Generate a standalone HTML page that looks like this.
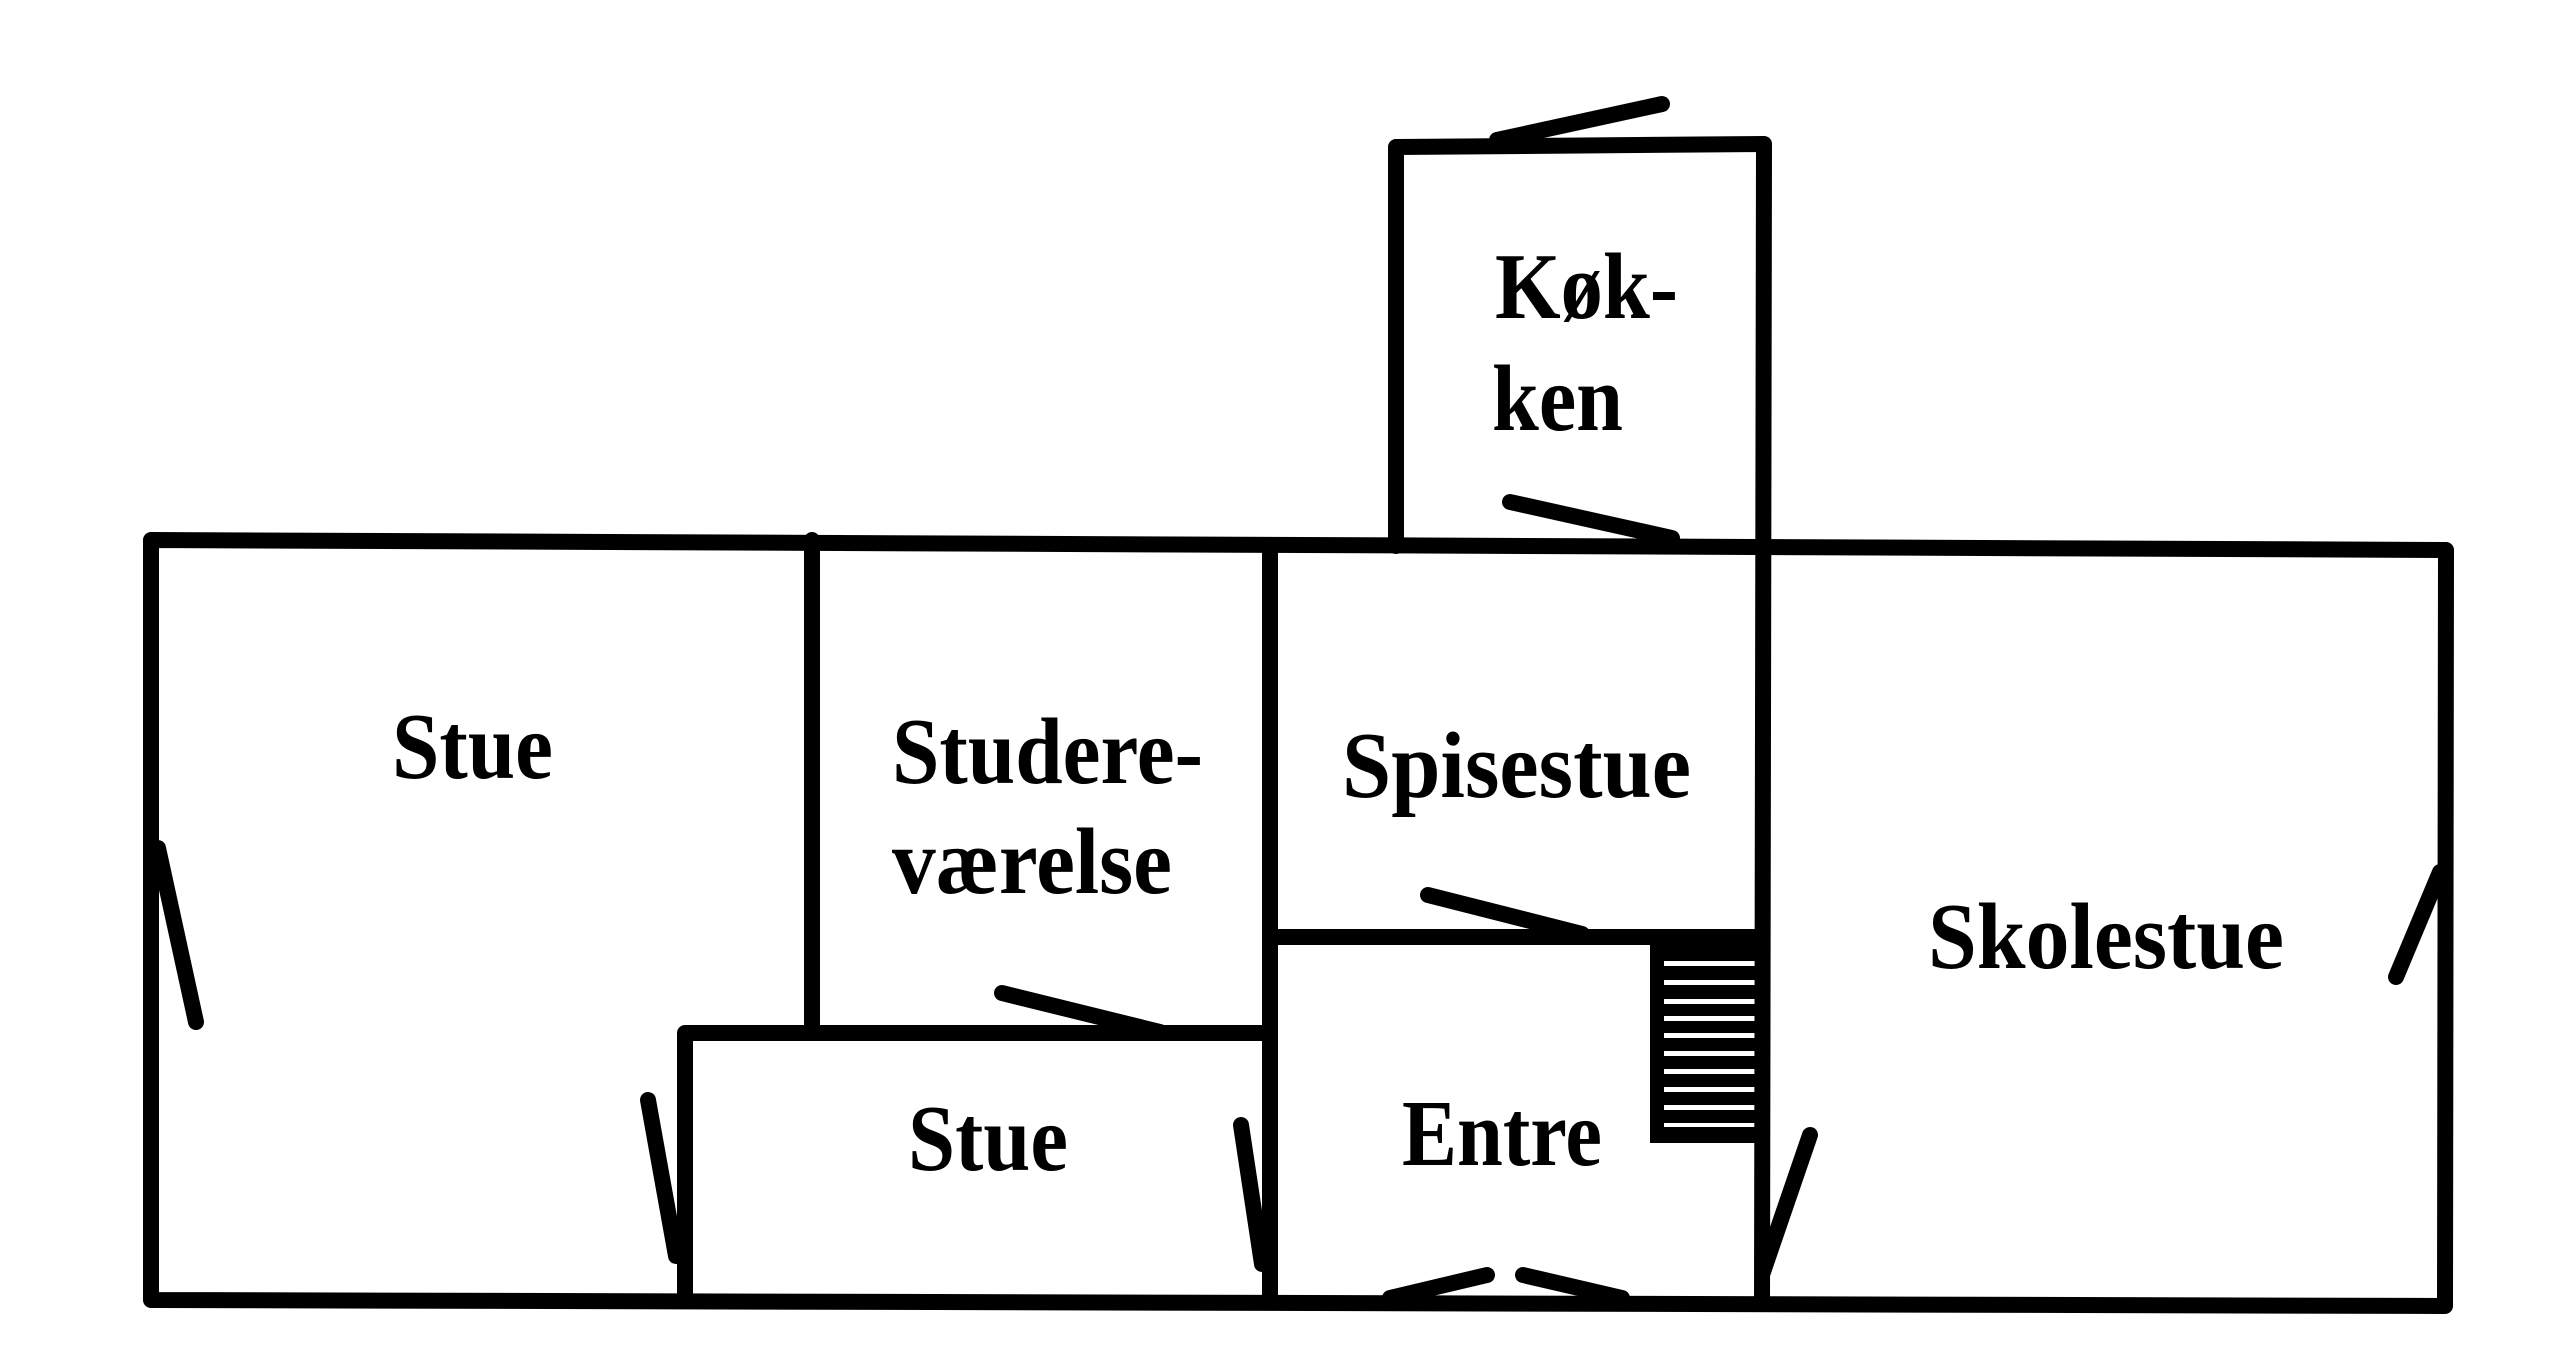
<!DOCTYPE html>
<html>
<head>
<meta charset="utf-8">
<style>
  html, body { margin: 0; padding: 0; background: #fff; }
  body { width: 2556px; height: 1352px; overflow: hidden; }
  svg { display: block; }
  text { font-family: "Liberation Serif", "DejaVu Serif", serif; font-weight: bold; font-size: 94px; fill: #000; }
</style>
</head>
<body>
<svg width="2556" height="1352" viewBox="0 0 2556 1352" xmlns="http://www.w3.org/2000/svg">
  <rect x="0" y="0" width="2556" height="1352" fill="#fff"/>

  <!-- Walls -->
  <g stroke="#000" stroke-width="16" fill="none" stroke-linecap="round" stroke-linejoin="round">
    <path d="M151 540 L2446 550 L2445 1306 L151 1300 Z"/>
    <path d="M1396 546 L1396 147 L1764 144 L1762 1304"/>
    <line x1="812" y1="540" x2="812" y2="1033"/>
    <line x1="1270" y1="545" x2="1270" y2="1302"/>
    <line x1="1270" y1="937" x2="1761" y2="937"/>
    <path d="M685 1300 L685 1033 L1270 1033"/>
  </g>

  <!-- Door swings -->
  <g stroke="#000" stroke-width="16" fill="none" stroke-linecap="round">
    <line x1="1497" y1="140" x2="1662" y2="104"/>
    <line x1="1510" y1="502" x2="1672" y2="538"/>
    <line x1="158" y1="848" x2="196" y2="1022"/>
    <line x1="648" y1="1100" x2="676" y2="1256"/>
    <line x1="1241" y1="1125" x2="1262" y2="1264"/>
    <line x1="1002" y1="993" x2="1160" y2="1032"/>
    <line x1="1428" y1="895" x2="1582" y2="934"/>
    <line x1="1390" y1="1298" x2="1487" y2="1275"/>
    <line x1="1523" y1="1275" x2="1622" y2="1298"/>
    <line x1="1810" y1="1135" x2="1763" y2="1272"/>
    <line x1="2440" y1="872" x2="2396" y2="977"/>
  </g>

  <!-- Stairs -->
  <g fill="#000">
    <rect x="1650" y="945" width="14" height="198"/>
    <rect x="1650" y="1127" width="116" height="16"/>
    <rect x="1664" y="945" width="98" height="16"/>
    <rect x="1664" y="966" width="98" height="14"/>
    <rect x="1664" y="985" width="98" height="14"/>
    <rect x="1664" y="1004" width="98" height="12"/>
    <rect x="1664" y="1021" width="98" height="12"/>
    <rect x="1664" y="1038" width="98" height="13"/>
    <rect x="1664" y="1056" width="98" height="13"/>
    <rect x="1664" y="1074" width="98" height="13"/>
    <rect x="1664" y="1092" width="98" height="13"/>
    <rect x="1664" y="1110" width="98" height="13"/>
  </g>

  <!-- Labels -->
  <text x="1495" y="318" textLength="183" lengthAdjust="spacingAndGlyphs">Køk-</text>
  <text x="1492" y="430" textLength="131" lengthAdjust="spacingAndGlyphs">ken</text>
  <text x="392" y="778" textLength="161" lengthAdjust="spacingAndGlyphs">Stue</text>
  <text x="892" y="783" textLength="311" lengthAdjust="spacingAndGlyphs">Studere-</text>
  <text x="892" y="893" textLength="280" lengthAdjust="spacingAndGlyphs">værelse</text>
  <text x="1342" y="797" textLength="349" lengthAdjust="spacingAndGlyphs">Spisestue</text>
  <text x="1928" y="968" textLength="356" lengthAdjust="spacingAndGlyphs">Skolestue</text>
  <text x="908" y="1170" textLength="160" lengthAdjust="spacingAndGlyphs">Stue</text>
  <text x="1402" y="1165" textLength="200" lengthAdjust="spacingAndGlyphs">Entre</text>
</svg>
</body>
</html>
